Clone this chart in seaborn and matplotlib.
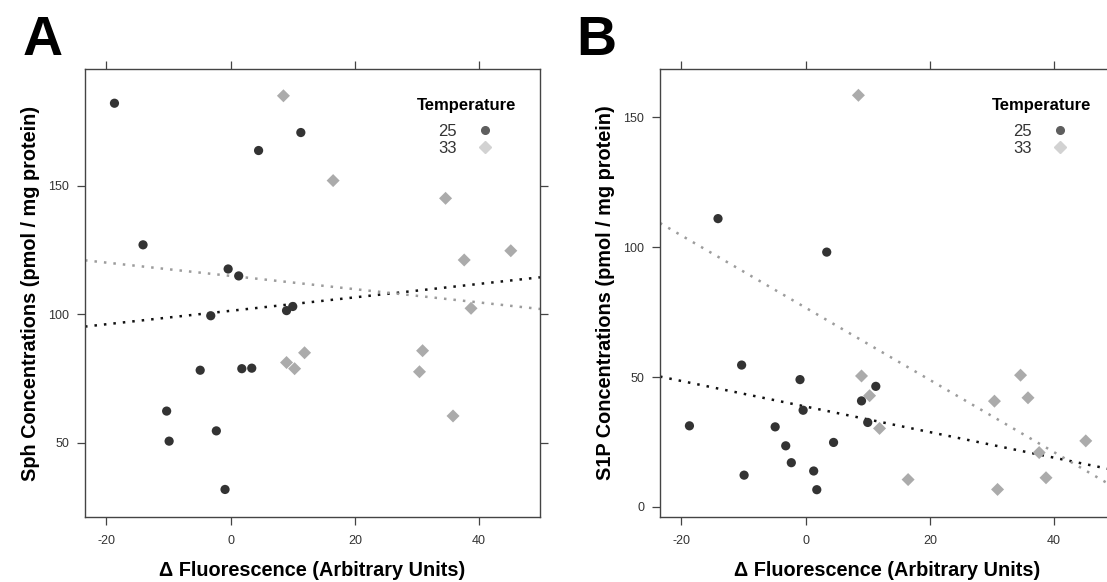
import numpy as np
import pandas as pd
import seaborn as sns
import matplotlib.pyplot as plt
from matplotlib.lines import Line2D

# values (x shared by both panels)
x_25 = [-18.7, -14.1, -10.3, -9.9, -4.9, -3.2, -2.3, -0.9, -0.4, 1.3, 1.8, 3.4, 4.5, 9.0, 10.0, 11.3]
sph_25 = [182.1, 127.0, 62.3, 50.6, 78.2, 99.4, 54.6, 31.8, 117.6, 114.9, 78.8, 79.0, 163.7, 101.4, 103.0, 170.7]
s1p_25 = [31.2, 111.0, 54.6, 12.2, 30.8, 23.5, 17.0, 49.0, 37.2, 13.8, 6.6, 98.1, 24.8, 40.8, 32.5, 46.4]

x_33 = [8.5, 9.0, 10.3, 11.9, 16.5, 30.4, 30.9, 34.6, 35.8, 37.6, 38.7, 45.1]
sph_33 = [185.0, 81.2, 78.8, 85.0, 152.0, 77.6, 85.8, 145.1, 60.4, 121.1, 102.3, 124.7]
s1p_33 = [158.5, 50.4, 42.8, 30.2, 10.5, 40.7, 6.7, 50.7, 42.0, 20.9, 11.2, 25.4]

temps = ["25", "33"]
x_ticks = [-20, 0, 20, 40]

df = pd.DataFrame({
    "fluor": x_25 + x_33,
    "Sph": sph_25 + sph_33,
    "S1P": s1p_25 + s1p_33,
    "Temperature": [temps[0]] * len(x_25) + [temps[1]] * len(x_33),
})

sns.set_style("ticks")
plt.rcParams["font.family"] = ["Liberation Sans", "DejaVu Sans"]
plt.rcParams["axes.unicode_minus"] = False
plt.rcParams["text.color"] = "black"
plt.rcParams["axes.labelcolor"] = "black"

point_col = {"25": "#333333", "33": "#ababab"}
line_col = {"25": "#111111", "33": "#9c9c9c"}
markers = {"25": "o", "33": "D"}
sizes = {"25": 44, "33": 44}

fig = plt.figure(figsize=(11.07, 5.82), dpi=100)
axA = fig.add_axes([0.0768, 0.1122, 0.411, 0.7687])
axB = fig.add_axes([0.5962, 0.1122, 0.411, 0.7687])

panels = [
    (axA, "Sph", (21.2, 195.3), [50, 100, 150], "Sph Concentrations (pmol / mg protein)"),
    (axB, "S1P", (-3.8, 168.5), [0, 50, 100, 150], "S1P Concentrations (pmol / mg protein)"),
]

for ax, col, ylim, yticks, ylab in panels:
    ax.set_xlim(-23.44, 49.8)
    ax.set_ylim(*ylim)
    for t in temps:
        sub = df[df["Temperature"] == t]
        sns.regplot(data=sub, x="fluor", y=col, ax=ax, scatter=False, ci=None,
                    truncate=False,
                    line_kws=dict(color=line_col[t], lw=1.8, ls=(0, (1, 2.8))))
        sns.scatterplot(data=sub, x="fluor", y=col, ax=ax, marker=markers[t],
                        color=point_col[t], s=sizes[t], edgecolor="none",
                        legend=False, zorder=3)
    ax.set_xlim(-23.44, 49.8)
    ax.set_ylim(*ylim)
    ax.set_xticks(x_ticks)
    ax.set_yticks(yticks)
    ax.tick_params(which="both", direction="out", length=5.5, width=0.9,
                   color="#444444", top=True, right=True, labeltop=False,
                   labelright=False, labelsize=9, labelcolor="#333333")
    ax.tick_params(axis="x", pad=8)
    ax.tick_params(axis="y", pad=6)
    for s in ax.spines.values():
        s.set_visible(True)
        s.set_color("#444444")
        s.set_linewidth(1.0)
    ax.set_xlabel("\u0394 Fluorescence (Arbitrary Units)", fontsize=14.3,
                  fontweight="bold", labelpad=10)
    ax.set_ylabel(ylab, fontsize=14.3, fontweight="bold", labelpad=6)

    # legend: bold title plus "label  marker" rows
    ax.text(0.8396, 0.9186, "Temperature", transform=ax.transAxes, ha="center",
            va="center", fontsize=12, fontweight="bold")
    handles = [
        Line2D([], [], ls="", marker="o", color="#5e5e5e", markersize=5.5, label="25"),
        Line2D([], [], ls="", marker="D", color="#d2d2d2", markersize=6.5, label="33"),
    ]
    leg = ax.legend(handles=handles, loc="upper right",
                    bbox_to_anchor=(0.897, 0.878), frameon=False,
                    markerfirst=False, fontsize=12,
                    handlelength=1.0, handletextpad=1.2, labelspacing=0.12,
                    borderpad=0, borderaxespad=0)
    for txt in leg.get_texts():
        txt.set_color("#333333")

fig.text(0.0205, 0.9055, "A", fontsize=40, fontweight="bold", va="baseline")
fig.text(0.521, 0.9055, "B", fontsize=40, fontweight="bold", va="baseline")

fig.savefig("out.png", dpi=100)
